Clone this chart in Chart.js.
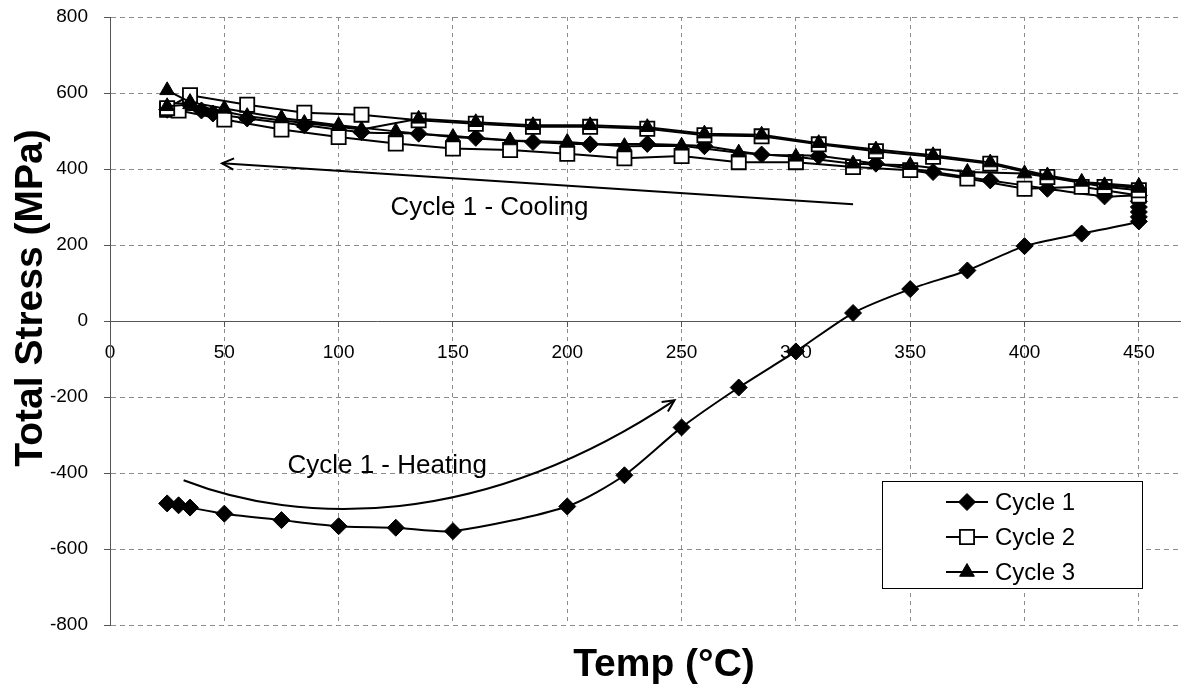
<!DOCTYPE html>
<html>
<head>
<meta charset="utf-8">
<title>Total Stress vs Temperature</title>
<script src="https://cdn.jsdelivr.net/npm/chart.js@4/dist/chart.umd.min.js"></script>
<style>
  html, body { margin: 0; padding: 0; background: #ffffff; }
  #wrap { width: 1193px; height: 693px; }
</style>
</head>
<body>
<div id="wrap"><canvas id="chart" width="1193" height="693"></canvas></div>
<script>
// ---- Thermal cycling data: temperature (°C) and total stress (MPa) ----
const cycle1HeatTemp   = [25, 30, 35, 50, 75, 100, 125, 150, 200, 225, 250, 275, 300, 325, 350, 375, 400, 425, 450, 450, 450, 450, 450];
const cycle1HeatStress = [-480, -485, -491, -507, -524, -540, -544, -553, -488, -406, -280, -175, -80, 21, 84, 133, 197, 230, 262, 274, 287, 300, 315];
const cycle1CoolTemp   = [450, 435, 410, 385, 360, 335, 310, 285, 260, 235, 210, 185, 160, 135, 110, 85, 60, 45, 40, 25];
const cycle1CoolStress = [330, 328, 348, 370, 392, 414, 434, 438, 460, 466, 465, 471, 482, 493, 497, 515, 533, 546, 554, 556];

const cycle2HeatTemp   = [25, 30, 50, 75, 100, 125, 150, 175, 200, 225, 250, 275, 300, 325, 350, 375, 400, 425, 450];
const cycle2HeatStress = [556, 554, 530, 504, 484, 467, 454, 450, 440, 428, 434, 418, 418, 405, 397, 375, 348, 353, 330];
const cycle2CoolTemp   = [450, 435, 410, 385, 360, 335, 310, 285, 260, 235, 210, 185, 160, 135, 110, 85, 60, 35, 25];
const cycle2CoolStress = [344, 353, 379, 414, 432, 447, 465, 486, 489, 506, 511, 511, 519, 528, 543, 548, 569, 594, 560];

const cycle3HeatTemp   = [25, 35, 50, 75, 100, 125, 150, 175, 200, 225, 250, 275, 300, 325, 350, 375, 400, 425, 450];
const cycle3HeatStress = [607, 576, 559, 534, 515, 499, 484, 475, 471, 460, 461, 443, 432, 414, 410, 392, 388, 366, 355];
const cycle3CoolTemp   = [450, 435, 410, 385, 360, 335, 310, 285, 260, 235, 210, 185, 160, 135, 110, 85, 60, 35, 25];
const cycle3CoolStress = [350, 357, 383, 417, 436, 451, 468, 490, 493, 510, 515, 515, 523, 532, 504, 521, 539, 570, 565];

const seriesLabels = ['Cycle 1', 'Cycle 2', 'Cycle 3'];
const xTitle = 'Temp (°C)';
const yTitle = 'Total Stress (MPa)';
const coolingNote = 'Cycle 1 - Cooling';
const heatingNote = 'Cycle 1 - Heating';

// ---- helpers ----
const FONT = '"Liberation Sans", Arial, Helvetica, sans-serif';
const toPoints = (xs, ys) => xs.map((x, i) => ({ x: x, y: ys[i] }));

// Note arrows, given in axis units (temperature, stress)
const coolingArrow = { from: [325, 307], to: [49, 415] };
const heatingCurve = { p0: [32.2, -419], c1: [82.9, -537.6], c2: [161.6, -550.8], p3: [246.9, -208.7] };
const coolingTextAt = [122.7, 298];
const heatingTextAt = [77.6, -381];

function markerPath(ctx, style, x, y, r) {
  ctx.beginPath();
  if (style === 'rectRot') {
    ctx.moveTo(x, y - r); ctx.lineTo(x + r, y); ctx.lineTo(x, y + r); ctx.lineTo(x - r, y);
  } else if (style === 'rect') {
    const s = r * Math.SQRT1_2;
    ctx.rect(x - s, y - s, 2 * s, 2 * s);
  } else {
    let a = 0;
    ctx.moveTo(x + Math.sin(a) * r, y - Math.cos(a) * r);
    a += 2 * Math.PI / 3; ctx.lineTo(x + Math.sin(a) * r, y - Math.cos(a) * r);
    a += 2 * Math.PI / 3; ctx.lineTo(x + Math.sin(a) * r, y - Math.cos(a) * r);
  }
  ctx.closePath();
}

function openArrowHead(ctx, tipX, tipY, fromX, fromY, len, spread) {
  const a = Math.atan2(tipY - fromY, tipX - fromX);
  ctx.beginPath();
  ctx.moveTo(tipX - len * Math.cos(a - spread), tipY - len * Math.sin(a - spread));
  ctx.lineTo(tipX, tipY);
  ctx.lineTo(tipX - len * Math.cos(a + spread), tipY - len * Math.sin(a + spread));
  ctx.stroke();
}

// Draws axis titles, the two notes with arrows, and the boxed legend
const decorations = {
  id: 'decorations',
  afterDraw(chart) {
    const ctx = chart.ctx;
    const sx = chart.scales.x, sy = chart.scales.y;
    const px = v => sx.getPixelForValue(v);
    const py = v => sy.getPixelForValue(v);
    ctx.save();
    ctx.fillStyle = '#000';
    ctx.strokeStyle = '#000';

    // axis titles
    ctx.font = 'bold 39px ' + FONT;
    ctx.textAlign = 'center';
    ctx.textBaseline = 'middle';
    ctx.fillText(xTitle, 664, 665);
    ctx.save();
    ctx.translate(31, 298);
    ctx.rotate(-Math.PI / 2);
    ctx.fillText(yTitle, 0, 0);
    ctx.restore();

    // notes
    ctx.font = '26px ' + FONT;
    ctx.textAlign = 'left';
    ctx.fillText(coolingNote, px(coolingTextAt[0]), py(coolingTextAt[1]));
    ctx.fillText(heatingNote, px(heatingTextAt[0]), py(heatingTextAt[1]));

    ctx.lineWidth = 2;
    const f = coolingArrow.from, t = coolingArrow.to;
    ctx.beginPath();
    ctx.moveTo(px(f[0]), py(f[1]));
    ctx.lineTo(px(t[0]), py(t[1]));
    ctx.stroke();
    openArrowHead(ctx, px(t[0]), py(t[1]), px(f[0]), py(f[1]), 13, 0.45);

    const h = heatingCurve;
    ctx.beginPath();
    ctx.moveTo(px(h.p0[0]), py(h.p0[1]));
    ctx.bezierCurveTo(px(h.c1[0]), py(h.c1[1]), px(h.c2[0]), py(h.c2[1]), px(h.p3[0]), py(h.p3[1]));
    ctx.stroke();
    openArrowHead(ctx, px(h.p3[0]), py(h.p3[1]), px(h.c2[0]), py(h.c2[1]), 13, 0.45);

    // legend box
    const box = { left: 882, top: 481, right: 1142, bottom: 588 };
    ctx.fillStyle = '#fff';
    ctx.fillRect(box.left, box.top, box.right - box.left, box.bottom - box.top);
    ctx.lineWidth = 1;
    ctx.strokeStyle = '#000';
    ctx.strokeRect(box.left + 0.5, box.top + 0.5, box.right - box.left, box.bottom - box.top);

    const rows = [502, 537, 572];
    ctx.font = '24px ' + FONT;
    ctx.textAlign = 'left';
    ctx.textBaseline = 'middle';
    chart.data.datasets.forEach((ds, i) => {
      const y = rows[i];
      ctx.lineWidth = 2;
      ctx.strokeStyle = '#000';
      ctx.beginPath();
      ctx.moveTo(946, y);
      ctx.lineTo(988, y);
      ctx.stroke();
      markerPath(ctx, ds.pointStyle, 967, y, ds.pointRadius);
      ctx.fillStyle = ds.pointBackgroundColor;
      ctx.fill();
      ctx.lineWidth = ds.pointBorderWidth;
      ctx.stroke();
      ctx.fillStyle = '#000';
      ctx.fillText(ds.label, 995, y + 1);
    });
    ctx.restore();
  }
};

const tickFont = { family: FONT, size: 19 };

new Chart(document.getElementById('chart'), {
  type: 'scatter',
  data: {
    datasets: [
      {
        label: seriesLabels[0],
        data: toPoints(cycle1HeatTemp.concat(cycle1CoolTemp), cycle1HeatStress.concat(cycle1CoolStress)),
        showLine: true,
        tension: 0.25,
        borderColor: '#000',
        borderWidth: 2,
        pointStyle: 'rectRot',
        pointRadius: 8.5,
        pointBackgroundColor: '#000',
        pointBorderColor: '#000',
        pointBorderWidth: 1,
        order: 3
      },
      {
        label: seriesLabels[1],
        data: toPoints(cycle2HeatTemp.concat(cycle2CoolTemp), cycle2HeatStress.concat(cycle2CoolStress)),
        showLine: true,
        tension: 0,
        borderColor: '#000',
        borderWidth: 2,
        pointStyle: 'rect',
        pointRadius: 10,
        pointBackgroundColor: '#fff',
        pointBorderColor: '#000',
        pointBorderWidth: 1.8,
        order: 2
      },
      {
        label: seriesLabels[2],
        data: toPoints(cycle3HeatTemp.concat(cycle3CoolTemp), cycle3HeatStress.concat(cycle3CoolStress)),
        showLine: true,
        tension: 0,
        borderColor: '#000',
        borderWidth: 2,
        pointStyle: 'triangle',
        pointRadius: 8.5,
        pointBackgroundColor: '#000',
        pointBorderColor: '#000',
        pointBorderWidth: 1,
        order: 1
      }
    ]
  },
  options: {
    responsive: false,
    animation: false,
    devicePixelRatio: 1,
    layout: { padding: { top: 17, right: 13, bottom: 68, left: 0 } },
    plugins: {
      legend: { display: false },
      tooltip: { enabled: false },
      title: { display: false }
    },
    scales: {
      x: {
        type: 'linear',
        min: 0,
        max: 468,
        position: { y: 0 },
        ticks: { stepSize: 50, includeBounds: false, padding: 15, color: '#000', font: tickFont, maxRotation: 0 },
        grid: { color: '#8c8c8c', lineWidth: 1, drawTicks: true, tickLength: 5, tickColor: '#555', tickBorderDash: [] },
        border: { display: true, color: '#555', width: 1, dash: [4, 4] },
        afterFit(scale) { scale.paddingLeft = 0; scale.paddingRight = 0; }
      },
      y: {
        type: 'linear',
        min: -800,
        max: 800,
        position: 'left',
        ticks: { stepSize: 200, padding: 16, color: '#000', font: tickFont },
        grid: { color: '#8c8c8c', lineWidth: 1, drawTicks: true, tickLength: 6, tickColor: '#555', tickBorderDash: [] },
        border: { display: true, color: '#555', width: 1, dash: [5, 4] },
        afterFit(scale) { scale.width = 110; scale.paddingTop = 0; scale.paddingBottom = 0; }
      }
    }
  },
  plugins: [decorations]
});
</script>
</body>
</html>
